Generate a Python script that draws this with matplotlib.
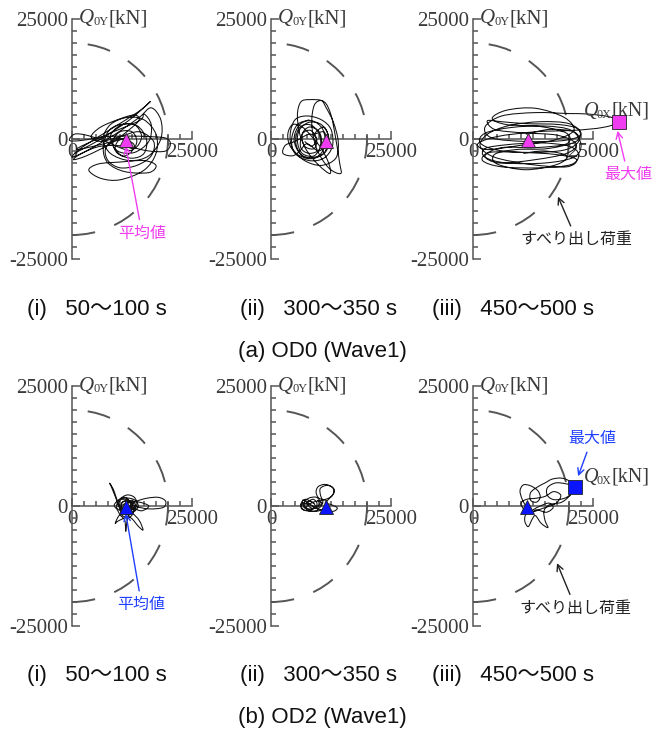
import numpy as np
import matplotlib
matplotlib.use('Agg')
import matplotlib.pyplot as plt
from matplotlib.path import Path
from matplotlib.patches import PathPatch, Arc

plt.rcParams['mathtext.fontset'] = 'stix'
plt.rcParams['font.family'] = ['Liberation Serif', 'Noto Sans CJK JP']

# ---------------- data (values in 1000 kN) ----------------
KN = 1000
SLIDE_LOAD = 20 * KN
AXIS_MAX = 25 * KN

# OD0 (Wave1) (i) 50-100 s : load trajectory (Q0X, Q0Y)
a1_x = [0.5, 6, 12, 16.3, 14, 8, 2, 0, 3, 9, 14, 16.5, 18.5, 18.5, 16, 12, 8, 6.5, 8, 11.5,
        15, 17.5, 17.5, 15, 10, 6, 3.5, 5.5, 10, 15, 17.5, 16, 11, 7.5, 6.5, 7.5, 10, 13.5, 15.5, 15,
        12.5, 9.5, 8.5, 10, 12.5, 13.5, 12.5, 10.5, 7, 3, 0.5, -0.5, 2, 7, 12, 16, 19.5, 20.5, 19.5, 16,
        11, 6, 2, 0.3, 3, 8, 12, 14, 13, 10, 6, 4, 6, 10, 14, 17, 16.5, 13.5, 10, 7.5,
        7, 9, 12, 13, 12, 10.5, 9, 9.8, 11.5, 1, 7, 14, 15, 16.5, 16, 13, 9.5, 8, 10, 13,
        14.5, 13, 10.5]
a1_y = [-3, 0, 4, 7.8, 5.8, 2, -1.8, -3.8, -2.5, 1, 4.5, 6.5, 4, 0, -3.5, -4.5, -3, 0, 3, 4.5,
        4, 1, -3, -6.5, -8.5, -8.2, -6.5, -5.2, -4.8, -4.5, -5.5, -7, -6.8, -5, -2, 1.5, 3, 2.8, 0, -3,
        -4, -3, -0.5, 1.5, 1.5, -0.5, -2.3, -2, -0.5, 0.8, 1, -0.3, -0.3, 0.5, 0.6, 0.5, 0.2, -1, -2.5, -2.5,
        -1.5, -1.5, -3, -4.3, -3.5, -1, 2, 4, 5, 4.2, 2.5, 0.5, -0.5, 0.5, 1.5, -0.5, -3.5, -5.5, -6, -4.5,
        -2, 0, -0.5, -1.5, -3, -3.5, -2, -0.2, 0.2, -2.2, 0.8, 3.8, 5.2, 3, -0.5, -2.8, -2.5, 0.5, 2.8, 3,
        0.5, -2, -1]

# OD0 (ii) 300-350 s
a2_x = [8, 5.5, 4.3, 5, 8, 11, 12.8, 12.5, 10.5, 7.5, 5, 4, 4.5, 7, 10.5, 13.5, 14, 13, 11.5, 10.5,
        9, 8.5, 9.5, 12, 14.5, 14.3, 13.5, 12.5, 11, 8, 6.2, 5.5, 6, 7.5, 10, 12.3, 12, 10.5, 8.5, 6.5,
        4.5, 3.5, 4, 6, 9, 11.5, 12, 10.5, 8, 6, 5.5, 6.5, 9, 10.5, 10, 8, 6.5, 7, 9, 9.5,
        8, 5, 3, 2.5, 4.5, 6, 7.5, 10, 11.5, 11, 9, 11, 12, 11, 8.5, 6, 4.8, 6, 8.5, 10.8,
        11.2, 9.5, 6.8, 5.2, 5.8, 8, 10, 10.2, 8, 6.2, 6.5, 8.2, 9.5, 8.5, 7]
a2_y = [4, 3, 0, -3, -4.5, -4, -1.5, 2, 4, 4.8, 4, 1, -2, -4.5, -5.5, -4, -0.5, 3.5, 6.5, 8,
        7, 3, -2, -6, -7.2, -5, 0, 5, 7.8, 8.2, 7.7, 5, 1, -2.5, -5.5, -7.2, -5, -2, 0.5, 2.5,
        3, 1, -1.5, -3.5, -3.8, -2.5, 0.5, 3, 3.5, 2, -0.5, -3, -3.5, -1, 1.5, 2.5, 1, -1.5, -2, 0,
        1, -0.5, -1.3, -3, -3.5, -2.5, -1, -2.5, -0.5, 1.5, 1, 2.5, 0, -3, -4, -3, 0, 3, 3.8, 2,
        -1.5, -3.8, -3.8, -1, 2.2, 3, 1.2, -2, -3, -1.8, 1, 1.8, 0, -1.5, -0.5]

# OD0 (iii) 450-500 s
a3_x = [11, 16, 21, 22, 19, 12, 5, 1.5, 2.5, 8, 15, 20.5, 22.5, 21, 15, 7, 2.5, 2.5, 7, 14,
        20, 22, 20.5, 14, 6, 2, 3.5, 10, 17, 21.5, 19.5, 12, 4.5, 1.5, 3, 7.5, 14, 20, 22.5, 19,
        11, 4, 2.5, 6, 13, 20, 24, 28.5, 30.4, 27, 21, 13, 5, 1, 3, 10, 17, 21, 19, 13,
        7, 4, 7, 14, 19.5, 19.5, 13, 6, 2.5, 5.5, 13, 19.5, 21.5, 17.5, 10, 4.5, 3, 6, 11, 18,
        22, 21.5, 15.5, 9, 4.5, 5, 11, 17.5, 19.5, 15, 10.5]
a3_y = [1, 2, 1.5, -0.5, -2.3, -2.8, -2.3, -0.8, 1.2, 2.4, 2.7, 1.8, -1.2, -3.8, -5, -5, -3.8, -2, -1.2, -0.8,
        -1.5, -3.2, -5.3, -6, -5.8, -4.5, -2.8, -2.8, -3.2, -4.2, -5.8, -5.3, -3.8, -1.5, 1, 2.8, 3.6, 3.2, 1, -0.3,
        -0.5, 0.2, 2.5, 4.8, 5.5, 5.3, 5.2, 4.6, 3.5, 2.4, 1.8, 1.5, 0.5, -1, -2.2, -1.3, -0.2, 1.8, 4.5, 6.4,
        6, 4.3, 3, 2.6, 1.2, -1, -1.8, -1.8, -3.5, -5, -4.3, -3, -1, 0.8, 1.3, 2, 3.8, 3.6, 3.2, 3,
        2, -0.5, -2, -2.2, -3.2, -5.2, -6.4, -5.3, -3.5, -2.5, -3]

# OD2 (Wave1) (i) 50-100 s
b1_x = [11, 12.5, 13.3, 12, 10.2, 9.8, 11, 12.2, 11.5, 10, 9, 8.2, 7.8, 8.6, 9.5, 10.5, 12.5, 14, 14.8, 13.8,
        12.3, 11, 9.5, 9, 9.8, 11.5, 13, 15.5, 18, 19.5, 19, 16, 13, 11.5, 10.3, 10.8, 12, 12.6, 11.6, 9.8,
        9.3, 10, 11, 11.2, 11.5, 12.3, 13.5, 13, 11.5, 10, 8.8, 9.8, 11.5, 12.8, 12.2, 10.5, 10.2, 11.8, 14, 16,
        14.5, 12.5, 11.2, 12.6, 12.9, 11.5, 10.2, 10.6, 12, 12.3, 11, 9.6, 10.4, 12.8, 13.8, 12.6, 10.8, 10.6]
b1_y = [0, 1.2, -0.3, -1.8, -1.2, 0.8, 1.8, 0.6, -1, -0.3, 2, 4, 4.8, 3.5, 1, -0.8, -1.5, -3, -5, -4.2,
        -2.5, -2.5, -3.2, -3.6, -2, -0.5, 0.8, 1.6, 1.8, 1, -0.3, -0.6, 0, 1, 0.5, -1, -1.2, 0.2, 1.3, 1.2,
        -0.2, -1.8, -3, -5.3, -3, -1, 0.3, 1.8, 2.3, 1.5, 0.2, -0.8, -0.2, -0.8, -2.2, -2, -0.2, 0.8, 0.8, 0,
        -1, -0.3, 0.2, 0.9, -0.8, -1.6, -0.6, 0.9, 1, -0.3, -0.9, 0.3, 1.6, 1.4, 0, -1.4, -1.5, -0.2]

# OD2 (ii) 300-350 s
b2_x = [9, 7.2, 6.2, 7, 8.8, 10.2, 9.5, 7.8, 6.8, 7.6, 9.5, 11.3, 11.5, 10, 9.4, 9.8, 11.2, 12.8, 13, 12,
        11.3, 12.5, 13.8, 13, 11, 9, 7.5, 6.6, 6.8, 8.2, 9.6, 8.8, 7.5, 8.4, 10, 10.8, 10.3, 10.3, 11.8, 13.2,
        12.6, 10.8, 8.8, 7.4, 8, 9.8, 8.2, 6.5, 6.4, 8, 9.2, 8.2, 7, 7.8, 9.5, 10.6, 9.6]
b2_y = [0.5, 1.4, 0.3, -0.9, -0.6, 0.6, 1.8, 1.6, 0.4, -0.8, -1.1, -0.3, 1.1, 1.6, 2.8, 4, 4.5, 3.9, 2.6, 1.4,
        0.6, 0.3, -0.4, -1.1, -1, -0.2, 0.8, 1.2, -0.2, -0.8, 0.3, 1.4, 0.6, -0.4, -0.4, 0.8, 2.3, 3.7, 4.3, 3.4,
        2, 1.2, 0.8, -0.2, -1.1, -0.8, 0.2, 0.6, -0.6, -1, 0, 1, 0.2, -0.6, -0.3, 0.6, 1.2]

# OD2 (iii) 450-500 s
b3_x = [11, 10.2, 9.8, 10.5, 12, 13.5, 14, 13.2, 12, 12, 13.5, 15, 16.5, 18.5, 20.3, 20.8, 19.5, 17, 15.5, 15.5,
        17.2, 19.5, 21.3, 20.5, 18.5, 16, 14.8, 15, 15.6, 14.2, 13, 12.3, 11.5, 10.8, 11, 12.5, 14, 15.8, 16.7, 15.3,
        13.2, 11.8, 10.6, 10, 11.2, 13, 15, 16.8, 18.3, 17.2, 14.5, 12.5, 11.3]
b3_y = [0, 1.5, 3.2, 4.4, 4.2, 3.2, 1.8, 0.8, 1.2, 2.8, 4, 4.8, 5.6, 5.8, 5, 3.3, 1.8, 1.3, 2.2, 3.8,
        4.8, 4.6, 4, 2.5, 0.8, 0.3, -1, -3, -4.5, -3.6, -2, -2.8, -4.3, -3.2, -1.8, -0.8, 0, 0.6, -0.3, -1.3,
        -0.8, -1.6, -0.7, 0.6, 1.4, 1.6, 2, 3, 2.2, 0.5, -0.5, -1.2, -0.8]

# mean and maximum values (1000 kN)
mean_x = [11.2, 11.4, 11.4, 11.2, 11.4, 11.3]
mean_y = [-0.3, -0.4, -0.3, -0.2, -0.3, -0.3]
max_a3 = (30.4, 3.5)
max_b3 = (21.3, 4.0)

captions = ['(i)   50～100 s', '(ii)   300～350 s', '(iii)   450～500 s']
row_titles = ['(a) OD0 (Wave1)', '(b) OD2 (Wave1)']

# ---------------- layout ----------------
W, H = 655, 733
fig = plt.figure(figsize=(W / 100, H / 100), dpi=100)
S = 120 / 25000  # px per kN
XL = (-5000, 36000)
YL = (-26000, 26000)

AX_COL = '#555555'
TXT_COL = '#3a3a3a'
MAG = '#f03cf0'
BLUE = '#0a14ff'
BLUE_T = '#2040ff'
SERIF = 'Liberation Serif'


def qlabel(ax, x, y, sub, fs=15):
    t1 = ax.text(x, y, 'Q', style='italic', fontsize=fs, color=TXT_COL, ha='left', va='center',
                 family=SERIF, zorder=4)
    t2 = ax.annotate(sub, xy=(0.92, 0.16), xycoords=t1, fontsize=fs * 0.6, color=TXT_COL,
                     ha='left', va='baseline', family=SERIF, zorder=4)
    ax.annotate('[kN]', xy=(1.0, 0.5), xycoords=(t2, t1), fontsize=fs, color=TXT_COL,
                ha='left', va='center', family=SERIF, zorder=4)


def make_ax(ox, oy):
    left = ox + XL[0] * S
    width = (XL[1] - XL[0]) * S
    top = oy - YL[1] * S
    height = (YL[1] - YL[0]) * S
    ax = fig.add_axes([left / W, 1 - (top + height) / H, width / W, height / H])
    ax.set_xlim(XL)
    ax.set_ylim(YL)
    ax.patch.set_alpha(0)
    for s in ['top', 'right']:
        ax.spines[s].set_visible(False)
    ax.spines['left'].set_position(('data', 0))
    ax.spines['bottom'].set_position(('data', 0))
    ax.spines['left'].set_bounds(-AXIS_MAX, AXIS_MAX)
    ax.spines['bottom'].set_bounds(0, AXIS_MAX)
    for s in ['left', 'bottom']:
        ax.spines[s].set_color(AX_COL)
        ax.spines[s].set_linewidth(1.1)
    ax.set_xticks([0, AXIS_MAX])
    ax.set_xticklabels(['0', '25000'])
    ax.set_xticks(np.arange(2500, AXIS_MAX, 2500), minor=True)
    ax.set_yticks([-AXIS_MAX, 0, AXIS_MAX])
    ax.set_yticklabels(['-25000', '0', '25000'])
    ax.set_yticks(np.arange(-AXIS_MAX + 2500, AXIS_MAX, 2500), minor=True)
    ax.tick_params(which='both', direction='in', color=AX_COL, width=1.1)
    ax.tick_params(which='major', length=5.5)
    ax.tick_params(which='minor', length=3.5)
    ax.tick_params(axis='x', labelsize=15, labelcolor=TXT_COL, pad=3)
    ax.tick_params(axis='y', labelsize=15, labelcolor=TXT_COL, pad=3)
    for lab in ax.get_xticklabels() + ax.get_yticklabels():
        lab.set_family(SERIF)
    qlabel(ax, 1500, AXIS_MAX, '0Y')
    arc = Arc((0, 0), 2 * SLIDE_LOAD, 2 * SLIDE_LOAD, theta1=-90, theta2=90,
              color='#555555', lw=1.4, linestyle=(0, (12, 10.5)))
    ax.add_patch(arc)
    return ax


def traj(ax, xs, ys):
    # smooth curve through the read points (Catmull-Rom as cubic Bezier)
    P = np.column_stack([xs, ys]).astype(float) * KN
    n = len(P)
    verts = [P[0]]
    codes = [Path.MOVETO]
    for i in range(n - 1):
        p0 = P[max(i - 1, 0)]
        p1 = P[i]
        p2 = P[i + 1]
        p3 = P[min(i + 2, n - 1)]
        verts += [p1 + (p2 - p0) / 6, p2 - (p3 - p1) / 6, p2]
        codes += [Path.CURVE4] * 3
    ax.add_patch(PathPatch(Path(verts, codes), fill=False, ec='#111111', lw=0.75, zorder=3))


cols = [72, 271, 473]
rows = [139, 506]
trajs = [[(a1_x, a1_y), (a2_x, a2_y), (a3_x, a3_y)],
         [(b1_x, b1_y), (b2_x, b2_y), (b3_x, b3_y)]]
axes = {}
for r, oy in enumerate(rows):
    for c, ox in enumerate(cols):
        ax = make_ax(ox, oy)
        axes[(r, c)] = ax
        traj(ax, *trajs[r][c])
        col = MAG if r == 0 else BLUE
        ax.plot(mean_x[r * 3 + c] * KN, mean_y[r * 3 + c] * KN, marker='^', ms=9.5, mfc=col,
                mec='#222222', mew=0.6, zorder=5, ls='none')

jp = ['Noto Sans CJK JP']
arrow = lambda col: dict(arrowstyle='->', color=col, lw=1.0, shrinkA=2, shrinkB=0)
# top row annotations
ax = axes[(0, 0)]
ax.annotate('平均値', xy=(11200, -1500), xytext=(14600, -19700), ha='center', va='center',
            color=MAG, fontsize=11.5, family=jp, arrowprops=arrow(MAG))
ax = axes[(0, 2)]
ax.plot(max_a3[0] * KN, max_a3[1] * KN, marker='s', ms=10, mfc=MAG, mec='#222222', mew=0.6, zorder=5, ls='none')
qlabel(ax, 23000, 5800, '0X', fs=14.5)
ax.annotate('最大値', xy=(30100, 1700), xytext=(32300, -7500), ha='center', va='center',
            color=MAG, fontsize=11.5, family=jp, arrowprops=arrow(MAG))
ax.annotate('すべり出し荷重', xy=(17700, -12000), xytext=(21600, -21000), ha='center', va='center',
            color='#222222', fontsize=11.5, family=jp, arrowprops=arrow('#222222'))
# bottom row
ax = axes[(1, 0)]
ax.annotate('平均値', xy=(11200, -1500), xytext=(14500, -20600), ha='center', va='center',
            color=BLUE_T, fontsize=11.5, family=jp, arrowprops=arrow(BLUE_T))
ax = axes[(1, 2)]
ax.plot(max_b3[0] * KN, max_b3[1] * KN, marker='s', ms=10, mfc=BLUE, mec='#222222', mew=0.6, zorder=5, ls='none')
qlabel(ax, 23000, 6000, '0X', fs=14.5)
ax.annotate('最大値', xy=(21900, 6200), xytext=(24800, 14100), ha='center', va='center',
            color=BLUE_T, fontsize=11.5, family=jp, arrowprops=arrow(BLUE_T))
ax.annotate('すべり出し荷重', xy=(17500, -11900), xytext=(21400, -21300), ha='center', va='center',
            color='#222222', fontsize=11.5, family=jp, arrowprops=arrow('#222222'))

# captions
cap_fam = ['Liberation Sans', 'Noto Sans CJK JP']
cap_x = [27, 240, 432]
for r, yc in enumerate([310, 676]):
    for c in range(3):
        fig.text(cap_x[c] / W, 1 - yc / H, captions[c], ha='left', va='center',
                 fontsize=16, family=cap_fam, color='#111111')
for r, yc in enumerate([352, 718]):
    fig.text(322 / W, 1 - yc / H, row_titles[r], ha='center', va='center',
             fontsize=16, family=cap_fam, color='#111111')

fig.savefig('out.png', dpi=100)
